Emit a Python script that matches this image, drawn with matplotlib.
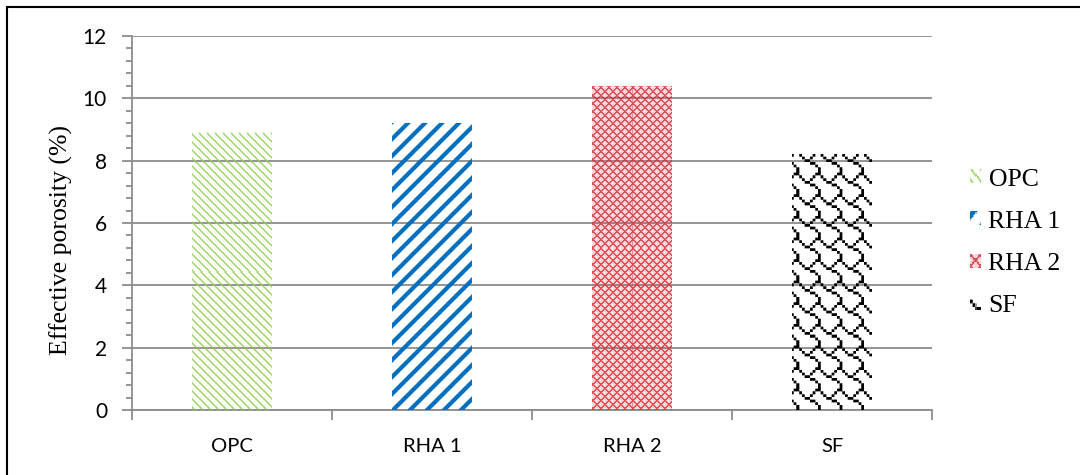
import numpy as np
import matplotlib
matplotlib.use("Agg")
import matplotlib.pyplot as plt
from matplotlib.patches import Rectangle, Patch
from matplotlib.image import BboxImage
from matplotlib.transforms import Bbox, TransformedBbox
from matplotlib.legend_handler import HandlerBase
from matplotlib.ticker import MultipleLocator, FixedLocator

# ---- data -------------------------------------------------------------
categories = ["OPC", "RHA 1", "RHA 2", "SF"]
porosity = [8.9, 9.2, 10.4, 8.2]          # effective porosity, %
y_ticks = [0, 2, 4, 6, 8, 10, 12]
fills = ["opc", "rha1", "rha2", "sf"]

W, H, DPI = 1080, 475, 100
GRID = "#8c8c8c"

# ---- pattern fills (pixel based, transparent background) ---------------
SHINGLE = [0x03, 0x84, 0x48, 0x30, 0x0C, 0x02, 0x01, 0x01]
SHINGLE_MASK = np.array([[(b >> (7 - c)) & 1 for c in range(8)] for b in SHINGLE])


def shingle_alpha(X, Y, cell=2.7, ss=3):
    # supersampled shingle tile -> soft edged alpha
    acc = np.zeros(X.shape)
    for i in range(ss):
        for j in range(ss):
            yy = Y + (i + 0.5) / ss
            xx = X + (j + 0.5) / ss
            r = np.floor(yy / cell).astype(int) % 8
            c = np.floor(xx / cell).astype(int) % 8
            acc += SHINGLE_MASK[r, c]
    return np.clip(acc / (ss * ss) * 1.15, 0, 1)


def pattern(kind, X, Y):
    rgba = np.zeros(X.shape + (4,))
    if kind == "opc":
        d = (X - Y) % 8
        a = np.select([d == 0, d == 1, d == 2], [0.45, 0.95, 0.45], 0.0)
        col = (0.57, 0.82, 0.31)
    elif kind == "rha1":
        d = (X + Y) % 17
        a = np.where((d >= 1) & (d <= 5), 1.0, 0.0)
        a = np.where((d == 0) | (d == 6), 0.45, a)
        col = (0.0, 0.44, 0.75)
    elif kind == "rha2":
        d1 = (X + Y) % 8
        d2 = (X - Y) % 8
        line = (d1 <= 1) | (d2 <= 1)
        a = np.where(line, 0.85, 0.22)
        a = np.where((d1 == 4) & (d2 == 4), 0.0, a)
        col = (0.86, 0.20, 0.24)
    else:
        a = shingle_alpha(X, Y)
        col = (0.0, 0.0, 0.0)
    rgba[..., 0], rgba[..., 1], rgba[..., 2] = col
    rgba[..., 3] = a
    return rgba


def texture(kind, x0, ytop, w, h):
    X, Y = np.meshgrid(np.arange(x0, x0 + w), np.arange(ytop, ytop + h))
    return pattern(kind, X, Y)


# ---- figure -----------------------------------------------------------
plt.rcParams["font.family"] = ["Lato", "DejaVu Sans"]
fig = plt.figure(figsize=(W / DPI, H / DPI), dpi=DPI)
fig.patch.set_facecolor("white")
ax = fig.add_axes([132 / W, 1 - 410 / H, 800 / W, 374 / H])

x = np.arange(len(categories))
ax.set_xlim(-0.5, len(categories) - 0.5)
ax.set_ylim(y_ticks[0], y_ticks[-1])

bars = ax.bar(x, porosity, width=0.4, color="none", edgecolor="none", zorder=3)

fig.canvas.draw()
for patch, kind in zip(bars.patches, fills):
    (dx0, dy0), (dx1, dy1) = ax.transData.transform(
        [(patch.get_x(), patch.get_y()),
         (patch.get_x() + patch.get_width(), patch.get_y() + patch.get_height())])
    w = int(round(dx1 - dx0))
    h = int(round(dy1 - dy0))
    tex = texture(kind, int(round(dx0)), int(round(H - dy1)), w, h)
    if kind == "rha2":
        seam = tex[:, w // 2, 3] > 0.5
        tex[:, w // 2, 3] = np.where(seam, 0.9, 0.55)
    im = ax.imshow(tex, extent=(patch.get_x(), patch.get_x() + patch.get_width(),
                                patch.get_y(), patch.get_y() + patch.get_height()),
                   origin="upper", interpolation="nearest", aspect="auto", zorder=3)
    im.set_clip_path(patch)

ax.set_xlim(-0.5, len(categories) - 0.5)
ax.set_ylim(y_ticks[0], y_ticks[-1])

# axes styling
for side in ("top", "right"):
    ax.spines[side].set_visible(False)
for side in ("left", "bottom"):
    ax.spines[side].set_color(GRID)
    ax.spines[side].set_linewidth(1.3)
ax.yaxis.grid(True, color=GRID, linewidth=1.3)
ax.set_axisbelow(True)

ax.yaxis.set_major_locator(FixedLocator(y_ticks))
ax.yaxis.set_minor_locator(MultipleLocator(0.4))
ax.tick_params(axis="y", which="major", direction="out", length=7, width=1.3,
               color=GRID, labelsize=15, pad=11)
ax.tick_params(axis="y", which="minor", direction="out", length=4, width=1.3,
               color=GRID)

ax.set_xticks(x)
ax.set_xticklabels(categories)
ax.xaxis.set_minor_locator(FixedLocator(np.arange(-0.5, len(categories), 1.0)))
ax.tick_params(axis="x", which="major", length=0, labelsize=14.5, pad=20)
ax.tick_params(axis="x", which="minor", direction="out", length=7, width=1.3,
               color=GRID)

ax.set_ylabel("Effective porosity (%)", family=["Liberation Serif", "DejaVu Serif"],
              fontsize=18.5)
ax.yaxis.set_label_coords((73 - 132) / 800, 0.455)


# ---- legend with the same pattern swatches ----------------------------
class HandlerTexture(HandlerBase):
    def __init__(self, kind):
        super().__init__()
        self.kind = kind

    def create_artists(self, legend, orig_handle, xdescent, ydescent,
                       width, height, fontsize, trans):
        bb = TransformedBbox(Bbox.from_bounds(-xdescent, -ydescent, width, height), trans)
        img = BboxImage(bb, interpolation="nearest")
        img.set_data(texture(self.kind, 0, 0, 10, 10))
        return [img]


handles = [Patch(facecolor="none", edgecolor="none", label=c) for c in categories]
leg = fig.legend(handles=handles, labels=categories,
                 handler_map={h: HandlerTexture(k) for h, k in zip(handles, fills)},
                 loc="center left", bbox_to_anchor=(970 / W, 1 - 243 / H),
                 frameon=False, borderpad=0, borderaxespad=0,
                 handlelength=0.42, handleheight=0.42, handletextpad=0.3,
                 labelspacing=0.78,
                 prop={"family": ["Liberation Serif", "DejaVu Serif"], "size": 18.5})

# outer frame
fig.add_artist(Rectangle((7 / W, -0.1), 1.2, 1 - 7 / H + 0.1, transform=fig.transFigure,
                         fill=False, edgecolor="black", linewidth=1.5, clip_on=False))

fig.savefig("out.png", dpi=DPI, facecolor="white")
